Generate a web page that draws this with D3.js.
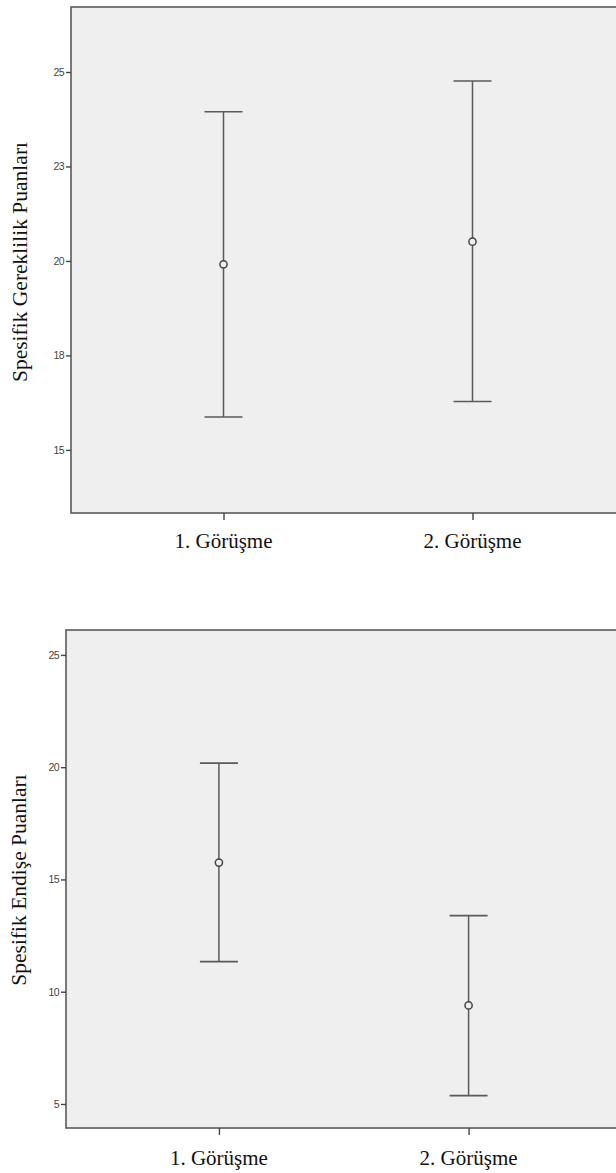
<!DOCTYPE html>
<html>
<head>
<meta charset="utf-8">
<script src="https://cdn.jsdelivr.net/npm/d3@7"></script>
<style>
  html, body { margin: 0; padding: 0; background: #ffffff; }
  svg { display: block; }
</style>
</head>
<body>
<svg id="chart" width="616" height="1173"></svg>
<script>
// ---- data ----
const categories = ["1. Görüşme", "2. Görüşme"];

const gerekMean  = [19.91, 20.51];
const gerekLower = [15.87, 16.28];
const gerekUpper = [23.95, 24.76];
const gerekTicks = [15, 17.5, 20, 22.5, 25];
const gerekTickLabels = ["15", "18", "20", "23", "25"];
const gerekTitle = "Spesifik Gereklilik Puanları";

const endiseMean  = [15.75, 9.39];
const endiseLower = [11.34, 5.37];
const endiseUpper = [20.18, 13.39];
const endiseTicks = [5, 10, 15, 20, 25];
const endiseTickLabels = ["5", "10", "15", "20", "25"];
const endiseTitle = "Spesifik Endişe Puanları";

// ---- drawing ----
const svg = d3.select("#chart");
const lineCol = "#5a5a5a";

function panel(cfg) {
  const { left, right, top, bottom, yDomain, mean, lower, upper, ticks, tickLabels, title, titleX, titleY, catY } = cfg;
  const g = svg.append("g");

  const x = d3.scalePoint().domain(categories).range([left, right]).padding(0.6125);
  const y = d3.scaleLinear().domain(yDomain).range([bottom, top]);

  // background
  g.append("rect")
    .attr("x", left).attr("y", top)
    .attr("width", right - left).attr("height", bottom - top)
    .attr("fill", "#efefef")
    .attr("stroke", lineCol).attr("stroke-width", 1.6);

  // y axis
  const yAxis = d3.axisLeft(y)
    .tickValues(ticks)
    .tickFormat((d, i) => tickLabels[i])
    .tickSize(5).tickPadding(2);
  const ya = g.append("g").attr("transform", `translate(${left},0)`).call(yAxis);
  ya.select(".domain").remove();
  ya.selectAll(".tick line").attr("stroke", "#444").attr("stroke-width", 1.4);
  ya.selectAll(".tick text")
    .attr("fill", "#444")
    .style("font-family", "'Liberation Sans', Arial, sans-serif")
    .style("font-size", "10.5px")
    .style("letter-spacing", "-0.6px");

  // x axis
  const xAxis = d3.axisBottom(x).tickSize(7).tickPadding(12);
  const xa = g.append("g").attr("transform", `translate(0,${bottom})`).call(xAxis);
  xa.select(".domain").remove();
  xa.selectAll(".tick line").attr("stroke", "#444").attr("stroke-width", 1.4);
  xa.selectAll(".tick text").remove();

  g.selectAll("text.cat")
    .data(categories)
    .join("text")
    .attr("class", "cat")
    .attr("x", d => x(d))
    .attr("y", catY)
    .attr("text-anchor", "middle")
    .style("font-family", "'Liberation Serif', 'Times New Roman', serif")
    .style("font-size", "21px")
    .attr("fill", "#111")
    .text(d => d);

  // y title
  g.append("text")
    .attr("transform", `translate(${titleX},${titleY}) rotate(-90)`)
    .attr("text-anchor", "middle")
    .style("font-family", "'Liberation Serif', 'Times New Roman', serif")
    .style("font-size", "21.5px")
    .attr("fill", "#111")
    .text(title);

  // error bars
  const capHalf = 19;
  const bars = g.selectAll("g.bar")
    .data(categories.map((c, i) => ({ c, m: mean[i], lo: lower[i], hi: upper[i] })))
    .join("g").attr("class", "bar");

  bars.append("line")
    .attr("x1", d => x(d.c)).attr("x2", d => x(d.c))
    .attr("y1", d => y(d.hi)).attr("y2", d => y(d.lo))
    .attr("stroke", lineCol).attr("stroke-width", 1.5);
  bars.append("line")
    .attr("x1", d => x(d.c) - capHalf).attr("x2", d => x(d.c) + capHalf)
    .attr("y1", d => y(d.hi)).attr("y2", d => y(d.hi))
    .attr("stroke", lineCol).attr("stroke-width", 1.6);
  bars.append("line")
    .attr("x1", d => x(d.c) - capHalf).attr("x2", d => x(d.c) + capHalf)
    .attr("y1", d => y(d.lo)).attr("y2", d => y(d.lo))
    .attr("stroke", lineCol).attr("stroke-width", 1.6);
  bars.append("circle")
    .attr("cx", d => x(d.c)).attr("cy", d => y(d.m))
    .attr("r", 3.6)
    .attr("fill", "#efefef")
    .attr("stroke", "#444").attr("stroke-width", 1.5);
}

panel({
  left: 71, right: 625, top: 7, bottom: 513,
  yDomain: [13.33, 26.72],
  mean: gerekMean, lower: gerekLower, upper: gerekUpper,
  ticks: gerekTicks, tickLabels: gerekTickLabels,
  title: gerekTitle, titleX: 27, titleY: 262, catY: 548
});

panel({
  left: 66, right: 621.5, top: 630, bottom: 1128,
  yDomain: [3.93, 26.11],
  mean: endiseMean, lower: endiseLower, upper: endiseUpper,
  ticks: endiseTicks, tickLabels: endiseTickLabels,
  title: endiseTitle, titleX: 26, titleY: 880, catY: 1165
});
</script>
</body>
</html>
